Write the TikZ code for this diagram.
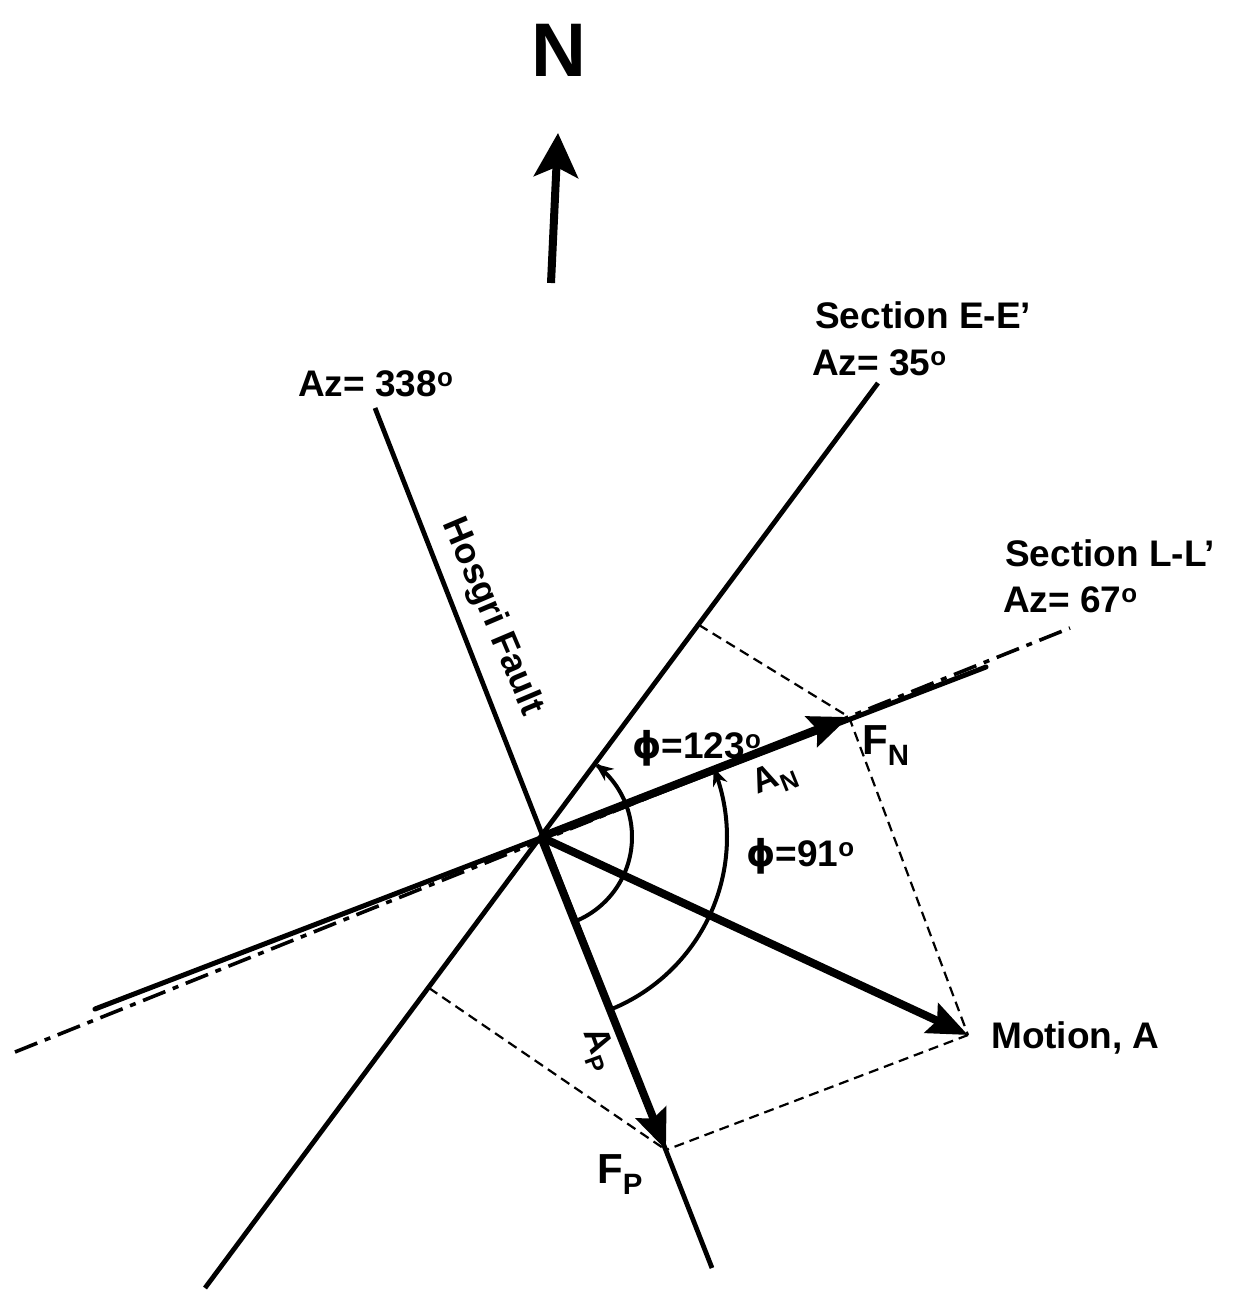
\documentclass[tikz,border=0pt]{standalone}
\usepackage{fontspec}
\setmainfont{Liberation Sans}
\newfontfamily\dvs{DejaVu Sans}
\usetikzlibrary{arrows.meta}
\begin{document}
\begin{tikzpicture}[x=1pt,y=-1pt,
  lbl/.style={font=\fontsize{37}{40}\selectfont\bfseries, inner sep=0pt, anchor=base west},
  fault/.style={line width=4.8pt},
  vec/.style={line width=8pt, -{Stealth[length=40pt,width=32pt,inset=6pt]}},
  proj/.style={line width=2.2pt, dash pattern=on 10pt off 6pt},
  ang/.style={line width=4pt},
  sect/.style={line width=3.6pt, dash pattern=on 24pt off 8pt on 6pt off 8pt}]
\useasboundingbox (0,0) rectangle (1236,1291);
\fill[white] (0,0) rectangle (1236,1291);

\coordinate (O) at (541,837);
\coordinate (H1) at (375,408); \coordinate (H2) at (712,1268);
\coordinate (E1) at (878,383); \coordinate (E2) at (205,1288);
\coordinate (L1) at (15,1052); \coordinate (L2) at (1070,628);
\coordinate (S1) at (95,1009); \coordinate (S2) at (986,667);
\coordinate (FN) at (849,717); \coordinate (FP) at (666,1150); \coordinate (MA) at (968,1035);
\coordinate (EP1) at (699,625); \coordinate (EP2) at (429,988);
\coordinate (Nb) at (551,283); \coordinate (Nt) at (558,133);

% lines
\draw[fault] (H1) -- (H2);
\draw[fault] (E1) -- (E2);
\draw[sect] (L1) -- (L2);
\draw[line width=5pt, line cap=round] (S1) -- (S2);

% projections
\draw[proj] (EP1) -- (FN);
\draw[proj] (FN) -- (MA);
\draw[proj] (MA) -- (FP);
\draw[proj] (EP2) -- (FP);

% angle arcs
\draw[ang, {Stealth[length=18pt,width=15pt]}-] plot[domain=-53.4:68.4, samples=80] ({541+91*cos(\x)},{837+91*sin(\x)});
\draw[ang, {Stealth[length=18pt,width=15pt]}-] plot[domain=-21.9:68.4, samples=80] ({541+186*cos(\x)},{837+186*sin(\x)});

% vectors
\draw[vec] (O) -- (FN);
\draw[vec] (O) -- (MA);
\draw[vec] (O) -- (FP);

% north arrow
\draw[line width=8pt, -{Stealth[length=44pt,width=44pt,inset=10pt]}] (Nb) -- (Nt);
\node[font=\fontsize{76}{80}\selectfont\bfseries, inner sep=0pt] (N) at (559,50) {N};

% labels
\node[lbl] (az338) at (298,396) {Az= 338\textsuperscript{o}};
\node[lbl] (secE) at (815,328) {Section E-E'};
\node[lbl] (az35) at (812,375) {Az= 35\textsuperscript{o}};
\node[lbl] (secL) at (1005,566) {Section L-L'};
\node[lbl] (az67) at (1003,612) {Az= 67\textsuperscript{o}};
\node[lbl] (mot) at (991,1048) {Motion, A};
\node[lbl, font=\fontsize{42}{44}\selectfont\bfseries] (fn) at (862,754) {F\textsubscript{N}};
\node[lbl, font=\fontsize{42}{44}\selectfont\bfseries] (fp) at (597,1183) {F\textsubscript{P}};
\node[lbl] (phi1) at (632,758) {{\dvs ϕ}=123\textsuperscript{o}};
\node[lbl] (phi2) at (746,866) {{\dvs ϕ}=91\textsuperscript{o}};
\node[font=\fontsize{35}{38}\selectfont\bfseries, inner sep=0pt, rotate=22] (an) at (775,779) {A\textsubscript{N}};
\node[font=\fontsize{35}{38}\selectfont\bfseries, inner sep=0pt, rotate=-70] (ap) at (598,1050) {A\textsubscript{P}};
\node[font=\fontsize{36}{38}\selectfont\bfseries, inner sep=0pt, rotate=-67] (hos) at (492,617) {Hosgri Fault};
\end{tikzpicture}
\end{document}
